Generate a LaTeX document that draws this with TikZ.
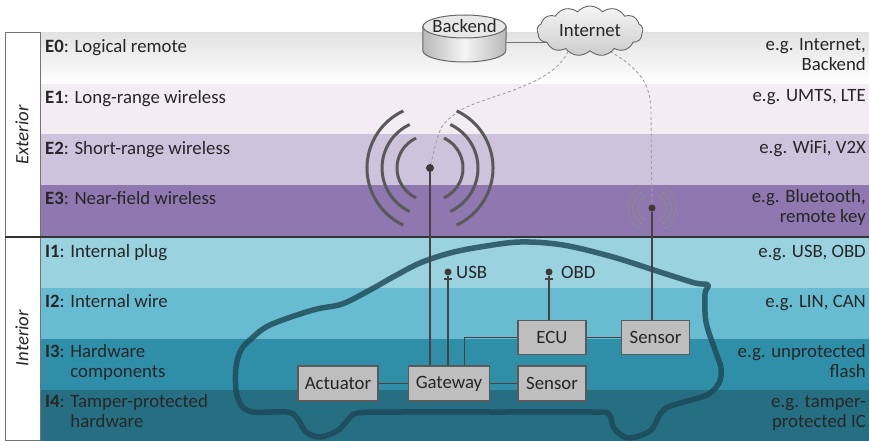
\documentclass[tikz,border=0pt]{standalone}
\usepackage{fontspec}
\setmainfont{Carlito}
\usetikzlibrary{positioning,shapes.symbols,calc}
\definecolor{bandE0}{HTML}{E2E2E2}
\definecolor{bandE1}{HTML}{F2EDF3}
\definecolor{bandE2}{HTML}{CDC3DC}
\definecolor{bandE3}{HTML}{8F78B0}
\definecolor{bandI1}{HTML}{9AD2DF}
\definecolor{bandI2}{HTML}{68BCD1}
\definecolor{bandI3}{HTML}{2F8FA8}
\definecolor{bandI4}{HTML}{266F83}
\definecolor{carline}{HTML}{1C4755}
\definecolor{wirecol}{HTML}{4A4242}
\definecolor{boxfill}{HTML}{BEBEBE}
\definecolor{boxdraw}{HTML}{5A5A5A}
\definecolor{txt}{HTML}{262626}
\pgfdeclarelayer{bands}
\pgfdeclarelayer{wires}
\pgfsetlayers{bands,wires,main}

\begin{document}
\begin{tikzpicture}[x=1pt,y=-1pt,every node/.append style={font=\fontsize{18.8}{20}\selectfont,text=txt},lvl/.style={anchor=base west,align=left,inner sep=0},ex/.style={anchor=base east,align=right,inner sep=0},unit/.style={draw=boxdraw,fill=boxfill,line width=1.5pt,minimum height=35,minimum width=68,inner xsep=5,inner ysep=0},wire/.style={draw=wirecol,line width=1.7pt},air/.style={draw=gray!75,line width=0.9pt,dash pattern=on 3pt off 2.5pt},dot/.style={circle,fill=wirecol!85!black,inner sep=0,minimum size=8},wave/.style={draw=black!65,line width=3pt},carbody/.style={draw=carline,draw opacity=0.8,line width=5.5pt,line join=round},]
    \useasboundingbox (0,0) rectangle (869,441);
    \begin{pgfonlayer}{bands}
    \shade[top color=bandE0, bottom color=white] (40,33) rectangle (869,84);
    \fill[bandE1] (40,84) rectangle (869,134);
    \fill[bandE2] (40,134) rectangle (869,185);
    \fill[bandE3] (40,185) rectangle (869,237);
    \fill[bandI1] (40,237) rectangle (869,288);
    \fill[bandI2] (40,288) rectangle (869,339);
    \fill[bandI3] (40,339) rectangle (869,390);
    \fill[bandI4] (40,390) rectangle (869,441);
    \draw[black!55, line width=1pt] (5,33) rectangle (40,440);
    \draw[black!80, line width=2pt] (5,237) -- (869,237);
    \draw[carbody] plot[smooth cycle, tension=0.55] coordinates {(241,405) (236,390) (236,367) (241,350) (251,339) (270,325) (313,310) (342,304) (370,290) (393,277) (420,263) (450,253) (480,247) (520,242) (563,245) (613,257) (663,273) (695,283) (708,285) (705,294) (706,322) (715,350) (721,368) (719,383) (707,395) (680,403) (666,408) (659,416) (650,431) (628,438) (614,428) (609,414) (593,412) (500,412) (400,412) (358,413) (347,421) (337,431) (320,437) (306,432) (297,418) (287,412) (253,412)};
    \end{pgfonlayer}

    \node[rotate=90, font=\fontsize{18.8}{20}\selectfont\itshape] (exterior) at (22,135) {Exterior};
    \node[rotate=90, font=\fontsize{18.8}{20}\selectfont\itshape] (interior) at (22,338) {Interior};

    \node[lvl] (e0) at (45,53) {\textbf{E0}: Logical remote};
    \node[lvl] (e1) at (45,103) {\textbf{E1}: Long-range wireless};
    \node[lvl] (e2) at (45,154) {\textbf{E2}: Short-range wireless};
    \node[lvl] (e3) at (45,204) {\textbf{E3}: Near-field wireless};
    \node[lvl] (i1) at (45,257) {\textbf{I1}: Internal plug};
    \node[lvl] (i2) at (45,307) {\textbf{I2}: Internal wire};
    \node[lvl] (i3) at (45,377) {\textbf{I3}: Hardware\\\phantom{\textbf{I3}: }components};
    \node[lvl] (i4) at (45,427) {\textbf{I4}: Tamper-protected\\\phantom{\textbf{I4}: }hardware};

    \node[ex] (x0) at (866,71) {e.g. Internet,\\Backend};
    \node[ex] (x1) at (866,102) {e.g. UMTS, LTE};
    \node[ex] (x2) at (866,153) {e.g. WiFi, V2X};
    \node[ex] (x3) at (866,222) {e.g. Bluetooth,\\remote key};
    \node[ex] (y1) at (866,257) {e.g. USB, OBD};
    \node[ex] (y2) at (866,307) {e.g. LIN, CAN};
    \node[ex] (y3) at (866,377) {e.g. unprotected\\flash};
    \node[ex] (y4) at (866,427) {e.g. tamper-\\protected IC};

    \node[inner sep=0, minimum width=83pt, minimum height=23pt] (backend) at (464.5,26.5) {Backend};
    \node[cloud, cloud puffs=13, cloud puff arc=100, aspect=2.3, draw=black!60, line width=0.9pt, top color=gray!8, bottom color=gray!40, minimum width=106pt, minimum height=50pt, inner sep=0] (internet) at (590,31) {Internet};
    \coordinate (bkport) at ($(backend.east)+(0,16)$);

    \node[unit, minimum width=80] (actuator) at (338,383.5) {Actuator};
    \node[unit, minimum width=81, right=29pt of actuator] (gateway) {Gateway};
    \node[unit, right=27pt of gateway] (sensora) {Sensor};
    \node[unit, minimum height=34, above=10pt of sensora] (ecu) {ECU};
    \node[unit, minimum height=34, right=34pt of ecu] (sensorb) {Sensor};

    \node[dot] (mast) at (430,168) {};
    \node[dot, minimum size=7] (keyant) at (652,208) {};
    \node[dot, minimum size=7] (usb) at (448,272) {};
    \node[right=1pt of usb] (usbtxt) {USB};
    \node[dot, minimum size=7] (obd) at (549,272) {};
    \node[right=5pt of obd] (obdtxt) {OBD};

    \foreach \r in {33,48,63} {
        \draw[wave] ($(mast)+(65:\r pt)$) arc[start angle=65, end angle=-65, radius=\r pt];
        \draw[wave] ($(mast)+(115:\r pt)$) arc[start angle=115, end angle=245, radius=\r pt];
    }
    \foreach \r in {14,19,24} {
        \draw[black!45, line width=0.8pt] ($(keyant)+(60:\r pt)$) arc[start angle=60, end angle=-60, radius=\r pt];
        \draw[black!45, line width=0.8pt] ($(keyant)+(120:\r pt)$) arc[start angle=120, end angle=240, radius=\r pt];
    }

    \begin{pgfonlayer}{wires}
    % backend disk under its label
    \shade[left color=gray!55, right color=gray!55, middle color=gray!8, draw=black!60, line width=1pt] (backend.west) -- ($(backend.west)+(0,24)$) arc[start angle=180, end angle=360, x radius=41.5pt, y radius=11.5pt] -- (backend.east) -- cycle;
    \draw[fill=gray!18, draw=black!60, line width=1pt] (backend.center) ellipse[x radius=41.5pt, y radius=11.5pt];
    \draw[draw=black!55, line width=1.2pt] (bkport) -- (bkport -| internet.center);
    \draw[air] ([xshift=-22pt]internet.south) .. controls (552,88) and (480,96) .. (458,112) .. controls (440,125) .. (mast);
    \draw[air] ([xshift=20pt]internet.south) .. controls (645,72) and (651,88) .. (651,115) -- (keyant);
    \draw[wire] (mast) -- (mast |- gateway.north);
    \draw[wire] (usb) -- (usb |- gateway.north);
    \draw[wire] ([xshift=-4pt,yshift=-7pt]usb.center) -- ([xshift=4pt,yshift=-7pt]usb.center);
    \draw[wire] ([xshift=15.5pt]gateway.north) |- (ecu.west);
    \draw[wire] (obd) -- (obd |- ecu.north);
    \draw[wire] ([xshift=-4pt,yshift=-7pt]obd.center) -- ([xshift=4pt,yshift=-7pt]obd.center);
    \draw[wire] (keyant) -- (keyant |- sensorb.north);
    \draw[wire] (actuator) -- (gateway);
    \draw[wire] (gateway) -- (sensora);
    \draw[wire] (ecu) -- (sensorb);
    \end{pgfonlayer}
\end{tikzpicture}
\end{document}
